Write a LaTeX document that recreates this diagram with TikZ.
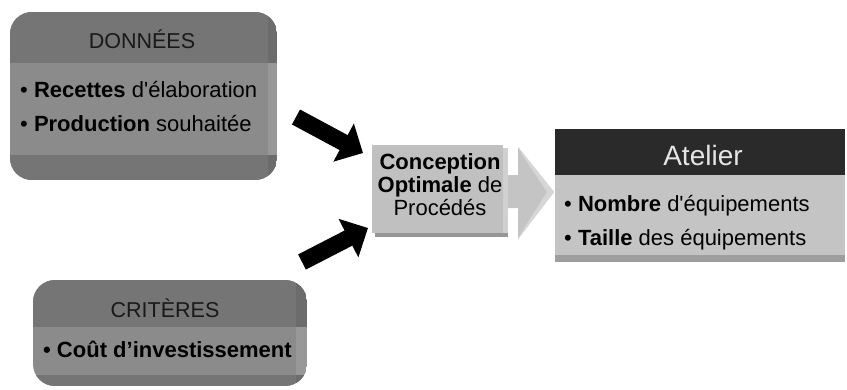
\documentclass[tikz,border=0pt]{standalone}
\usepackage{fontspec}
\setmainfont{Liberation Sans}
\usetikzlibrary{arrows.meta}
\definecolor{ghead}{RGB}{117,117,117}
\definecolor{gbody}{RGB}{139,139,139}
\definecolor{gedge}{RGB}{152,152,152}
\definecolor{gedgeh}{RGB}{108,108,108}
\definecolor{cbox}{RGB}{192,192,192}
\definecolor{cedge}{RGB}{208,208,208}
\definecolor{cshad}{RGB}{150,150,150}
\definecolor{adark}{RGB}{42,42,42}
\definecolor{abody}{RGB}{196,196,196}
\definecolor{ashad}{RGB}{158,158,158}
\definecolor{bigarrow}{RGB}{196,196,196}
\definecolor{bigarrowl}{RGB}{214,214,214}
\definecolor{htext}{RGB}{25,25,25}
\begin{document}
\begin{tikzpicture}[x=1pt,y=-1pt,
  txt/.style={inner sep=0pt, font=\fontsize{22}{26}\selectfont, text=black},
  hdtxt/.style={inner sep=0pt, font=\fontsize{21.5}{25}\selectfont, text=htext},
  blkarrow/.style={line width=17pt, black, -{Triangle[length=22pt,width=42pt]}}]
\useasboundingbox (0,0) rectangle (847,389);

% DONNEES box
\begin{scope}
  \clip[rounded corners=22pt] (10,12) rectangle (277,180);
  \fill[gbody] (10,12) rectangle (277,180);
  \fill[ghead] (10,12) rectangle (277,63);
  \fill[ghead] (10,155) rectangle (277,180);
  \fill[gedge] (268,63) rectangle (277,155);
  \fill[gedgeh] (268,12) rectangle (277,63);
  \fill[gedgeh] (268,155) rectangle (277,180);
\end{scope}
\node[hdtxt, anchor=base] (donh) at (142,48) {DONNÉES};
\node[txt, anchor=base west] (don1) at (20,97) {• \textbf{Recettes} d\textquotesingle élaboration};
\node[txt, anchor=base west] (don2) at (20,131) {• \textbf{Production} souhaitée};

% CRITERES box
\begin{scope}
  \clip[rounded corners=22pt] (33,280) rectangle (307,386);
  \fill[gbody] (33,280) rectangle (307,386);
  \fill[ghead] (33,280) rectangle (307,327);
  \fill[ghead] (33,375) rectangle (307,386);
  \fill[gedge] (296,327) rectangle (307,375);
  \fill[gedgeh] (296,280) rectangle (307,327);
  \fill[gedgeh] (296,375) rectangle (307,386);
\end{scope}
\node[hdtxt, anchor=base] (crih) at (165,317) {CRITÈRES};
\node[txt, anchor=base west] (cri1) at (43,357) {\textbf{• Coût d’investissement}};

% Conception box
\fill[cshad] (375,233) rectangle (508,237);
\fill[cedge] (503,148) rectangle (508,233);
\fill[cbox] (372,145) rectangle (503,233);
\node[txt, align=center, anchor=north] (conc) at (440,153)
  {\textbf{Conception}\\[-3pt] \textbf{Optimale} de\\[-3pt] Procédés};

% big light arrow
\fill[bigarrow] (508,175) -- (518,175) -- (518,147) -- (554,192) -- (518,239) -- (518,208) -- (508,208) -- cycle;
\fill[bigarrowl] (518,147) -- (554,192) -- (518,239) -- (523,230) -- (547,192) -- (523,156) -- cycle;

% Atelier box
\fill[ashad] (555,255) rectangle (845,262);
\fill[abody] (555,175) rectangle (845,255);
\fill[adark] (555,129) rectangle (845,175);
\node[inner sep=0pt, font=\fontsize{28}{32}\selectfont, text=white!90!black, anchor=base] (ath) at (703,165) {Atelier};
\node[txt, anchor=base west] (at1) at (564,211) {• \textbf{Nombre} d\textquotesingle équipements};
\node[txt, anchor=base west] (at2) at (564,245) {• \textbf{Taille} des équipements};

% black arrows
\coordinate (t1) at (296,117);
\coordinate (h1) at (363,153);
\coordinate (t2) at (302,262);
\coordinate (h2) at (368,228);
\draw[blkarrow] (t1) -- (h1);
\draw[blkarrow] (t2) -- (h2);
\end{tikzpicture}
\end{document}
